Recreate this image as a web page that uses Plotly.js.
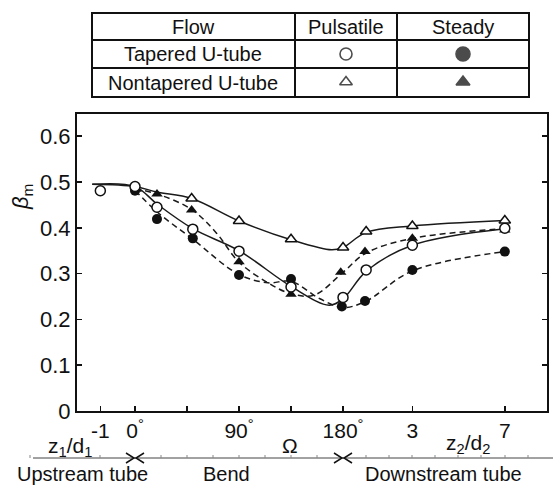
<!DOCTYPE html>
<html><head><meta charset="utf-8">
<script src="https://cdn.plot.ly/plotly-3.0.1.min.js"></script>
<style>html,body{margin:0;padding:0;background:#fff}</style>
</head><body><div id="chart" style="width:553px;height:486px"></div>
<script>
// Composite station axis: upstream z1/d1 (1 diameter = 30 units), bend angle in degrees (0..180),
// downstream z2/d2 (1 diameter = 20 units after 180).
const tickVals   = [-30, 0, 45, 90, 135, 180, 240, 320];
const tickLabels = ["-1", "0<sup>°</sup>", "", "90<sup>°</sup>", "", "180<sup>°</sup>", "3", "7"];
const yTicks = [0, 0.1, 0.2, 0.3, 0.4, 0.5, 0.6];

// Measured points
const tpX = [-30, 0, 19, 50, 90, 135, 180, 200, 240, 320];          // Tapered, pulsatile (open circle)
const tpY = [0.481, 0.490, 0.445, 0.397, 0.349, 0.271, 0.248, 0.308, 0.362, 0.399];
const tsX = [0, 19, 50, 90, 135, 179, 199, 240, 320];               // Tapered, steady (filled circle)
const tsY = [0.481, 0.419, 0.377, 0.297, 0.288, 0.228, 0.240, 0.308, 0.348];
const npX = [49, 90, 135, 180, 200, 240, 320];                      // Nontapered, pulsatile (open triangle)
const npY = [0.464, 0.415, 0.375, 0.357, 0.392, 0.404, 0.416];
const nsX = [1, 19, 49, 90, 135, 178, 199, 240, 320];               // Nontapered, steady (filled triangle)
const nsY = [0.484, 0.474, 0.439, 0.326, 0.255, 0.303, 0.348, 0.377, 0.395];

// Fitted curves
const tpCurveX = [-37, 0, 19, 50, 90, 135, 168, 180, 200, 240, 320];
const tpCurveY = [0.495, 0.490, 0.452, 0.398, 0.350, 0.272, 0.231, 0.245, 0.305, 0.362, 0.398];
const tsCurveX = [0, 19, 50, 90, 115, 135, 160, 180, 200, 240, 320];
const tsCurveY = [0.482, 0.435, 0.375, 0.298, 0.280, 0.283, 0.245, 0.226, 0.240, 0.306, 0.348];
const npCurveX = [-37, 0, 19, 49, 90, 135, 170, 180, 200, 240, 320];
const npCurveY = [0.495, 0.490, 0.478, 0.464, 0.415, 0.374, 0.352, 0.357, 0.390, 0.404, 0.416];
const nsCurveX = [0, 19, 49, 70, 90, 115, 135, 155, 180, 200, 240, 320];
const nsCurveY = [0.485, 0.474, 0.440, 0.390, 0.325, 0.280, 0.256, 0.253, 0.303, 0.345, 0.377, 0.398];

// Legend table text
const tableHeader = ["Flow", "Pulsatile", "Steady"];
const tableRows = ["Tapered U-tube", "Nontapered U-tube"];
const sectionLabels = ["Upstream tube", "Bend", "Downstream tube"];

const W = 553, H = 486;
const FONT = "Liberation Sans, Arial, sans-serif";
const INK = "#111";

const solid = {color: "#1a1a1a", width: 1.5, shape: "spline", smoothing: 1};
const dashed = {color: "#1a1a1a", width: 1.5, shape: "spline", smoothing: 1, dash: "6px,4px"};

const traces = [
  {x: tpCurveX, y: tpCurveY, mode: "lines", line: solid, hoverinfo: "skip"},
  {x: npCurveX, y: npCurveY, mode: "lines", line: solid, hoverinfo: "skip"},
  {x: tsCurveX, y: tsCurveY, mode: "lines", line: dashed, hoverinfo: "skip"},
  {x: nsCurveX, y: nsCurveY, mode: "lines", line: dashed, hoverinfo: "skip"},
  {x: tsX, y: tsY, mode: "markers", marker: {symbol: "circle", size: 10, color: INK}},
  {x: nsX, y: nsY, mode: "markers", marker: {symbol: "triangle-up", size: 10, color: INK}},
  {x: tpX, y: tpY, mode: "markers", marker: {symbol: "circle", size: 10, color: "#fff", line: {color: INK, width: 1.5}}},
  {x: npX, y: npY, mode: "markers", marker: {symbol: "triangle-up", size: 10, color: "#fff", line: {color: INK, width: 1.5}}},
  // table symbols on the pixel overlay
  {x: [346, 463, 346, 463], y: [54, 54, 82, 82], xaxis: "x2", yaxis: "y2", mode: "markers", cliponaxis: false,
   marker: {symbol: ["circle-open", "circle", "triangle-up-open", "triangle-up"], size: [12, 14, 11, 12],
            color: "#000", line: {color: "#000", width: 1.6}}}
];

// pixel-overlay helpers
const shapes = [];
function pline(x0, y0, x1, y1, w, c) {
  shapes.push({type: "line", xref: "x2", yref: "y2", x0, y0, x1, y1, line: {color: c || INK, width: w || 2}});
}
// table grid
shapes.push({type: "rect", xref: "x2", yref: "y2", x0: 92, y0: 13, x1: 529, y1: 97, line: {color: INK, width: 2}});
pline(92, 40, 529, 40);
pline(92, 68, 529, 68);
pline(295, 13, 295, 97);
pline(397, 13, 397, 97);
// bottom section line
pline(33, 458, 553, 458, 1, "#444");
[30, 65, 100].concat([161, 187, 213, 239, 265, 291, 317], [366, 389, 412, 435, 458, 481, 505, 528]).forEach(function (px) {
  pline(px, 455, px, 458, 1, "#888");
});
// arrows at bend entry / exit
[135, 343].forEach(function (px) {
  shapes.push({type: "path", xref: "x2", yref: "y2",
    path: "M " + (px - 9) + " 453 L " + (px - 1) + " 458 L " + (px - 9) + " 463",
    line: {color: INK, width: 1.5}});
  shapes.push({type: "path", xref: "x2", yref: "y2",
    path: "M " + (px + 9) + " 453 L " + (px + 1) + " 458 L " + (px + 9) + " 463",
    line: {color: INK, width: 1.5}});
});

const annotations = [];
function ann(text, x, y, size, extra) {
  annotations.push(Object.assign({text, x, y, xref: "x2", yref: "y2", showarrow: false,
    xanchor: "center", yanchor: "middle", font: {family: FONT, size: size || 20, color: INK}}, extra || {}));
}
ann(tableHeader[0], 193, 27, 20);
ann(tableHeader[1], 346, 27, 20);
ann(tableHeader[2], 463, 27, 20);
ann(tableRows[0], 193, 54, 20);
ann(tableRows[1], 193, 83, 20);
ann("<i>β</i><sub>m</sub>", 22, 197, 22, {textangle: -90});
ann("z<sub>1</sub>/d<sub>1</sub>", 70, 447, 21);
ann("Ω", 290, 445, 21);
ann("z<sub>2</sub>/d<sub>2</sub>", 468, 444, 21);
ann(sectionLabels[0], 82, 474, 20);
ann(sectionLabels[1], 226, 474, 20);
ann(sectionLabels[2], 443, 474, 20);

const layout = {
  width: W, height: H,
  margin: {l: 0, r: 0, t: 0, b: 0, pad: 0},
  paper_bgcolor: "#fff", plot_bgcolor: "rgba(0,0,0,0)",
  showlegend: false,
  font: {family: FONT, size: 20, color: INK},
  xaxis: {
    domain: [77 / W, 547 / W], range: [-50.2, 356.5],
    tickmode: "array", tickvals: tickVals, ticktext: tickLabels,
    ticks: "inside", ticklen: 5, tickwidth: 1.5, tickcolor: INK,
    showline: true, linewidth: 2, linecolor: INK, mirror: true,
    showgrid: false, zeroline: false,
    tickfont: {family: FONT, size: 21, color: INK}
  },
  yaxis: {
    domain: [75 / H, 372 / H], range: [0, 0.6485],
    tickmode: "array", tickvals: yTicks,
    ticks: "inside", ticklen: 5, tickwidth: 1.5, tickcolor: INK,
    showline: true, linewidth: 2, linecolor: INK, mirror: "ticks",
    showgrid: false, zeroline: false,
    tickfont: {family: FONT, size: 22, color: INK}
  },
  xaxis2: {domain: [0, 1], range: [0, W], visible: false, anchor: "y2", fixedrange: true},
  yaxis2: {domain: [0, 1], range: [H, 0], visible: false, anchor: "x2", fixedrange: true},
  shapes: shapes,
  annotations: annotations
};

Plotly.newPlot("chart", traces, layout, {staticPlot: true, displayModeBar: false});
</script></body></html>
